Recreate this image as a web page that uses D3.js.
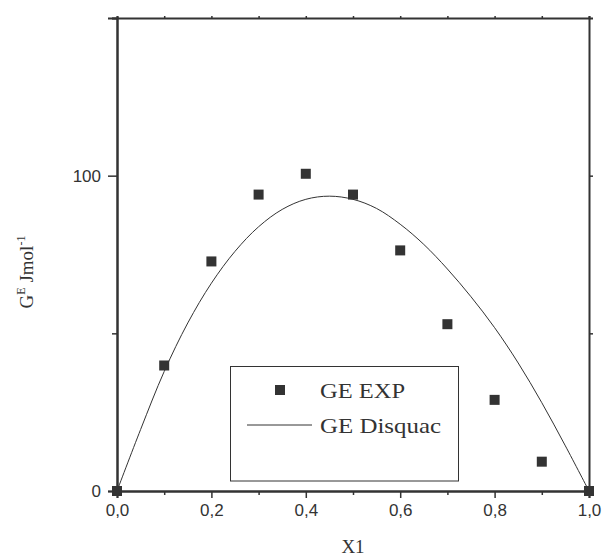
<!DOCTYPE html>
<html>
<head>
<meta charset="utf-8">
<script src="https://cdn.jsdelivr.net/npm/d3@7"></script>
<style>
  html, body { margin: 0; padding: 0; background: #fff; }
  svg { display: block; }
</style>
</head>
<body>
<svg id="chart" width="605" height="558"></svg>
<script>
// Excess Gibbs energy G^E vs mole fraction X1
const expX = [0.0, 0.1, 0.2, 0.3, 0.4, 0.5, 0.6, 0.7, 0.8, 0.9, 1.0];
const expGE = [0, 39.8, 72.8, 94.0, 100.6, 94.0, 76.3, 52.9, 28.9, 9.3, 0];

const disquacX = [0.0, 0.05, 0.1, 0.15, 0.2, 0.25, 0.3, 0.35, 0.4, 0.45, 0.5,
                  0.55, 0.6, 0.65, 0.7, 0.75, 0.8, 0.85, 0.9, 0.95, 1.0];
const disquacGE = [0, 19.5, 37.9, 53.3, 65.9, 76.0, 83.8, 89.3, 92.5, 93.5, 92.5,
                   89.6, 84.6, 78.2, 70.4, 61.6, 51.8, 40.6, 28.0, 14.3, 0];

const xMajorTicks = [0, 0.2, 0.4, 0.6, 0.8, 1.0];
const xMinorTicks = [0.1, 0.3, 0.5, 0.7, 0.9];
const yMajorTicks = [0, 100];
const yMinorTicks = [50, 150];

const legendLabels = ["GE EXP", "GE Disquac"];

const ink = "#333";
const svg = d3.select("#chart");

const x = d3.scaleLinear().domain([0, 1]).range([117, 589]);
const y = d3.scaleLinear().domain([0, 150]).range([491, 18]);

const fmtX = d => d3.format(".1f")(d).replace(".", ",");

// bottom axis
const axBottom = svg.append("g").attr("transform", `translate(0,${y(0)})`);
axBottom.call(d3.axisBottom(x).tickValues(xMinorTicks).tickSize(4).tickFormat(""));
axBottom.append("g").call(d3.axisBottom(x).tickValues(xMajorTicks).tickSize(7).tickPadding(6).tickFormat(fmtX));

// top axis
const axTop = svg.append("g").attr("transform", `translate(0,${y(150)})`);
axTop.call(d3.axisTop(x).tickValues(xMinorTicks.concat(xMajorTicks)).tickSize(2).tickFormat(""));

// left axis
const axLeft = svg.append("g").attr("transform", `translate(${x(0)},0)`);
axLeft.call(d3.axisLeft(y).tickValues(yMinorTicks).tickSize(5).tickFormat(""));
axLeft.append("g").call(d3.axisLeft(y).tickValues(yMajorTicks).tickSize(9).tickPadding(7).tickFormat(d3.format("d")));

// right axis
const axRight = svg.append("g").attr("transform", `translate(${x(1)},0)`);
axRight.call(d3.axisRight(y).tickValues([50, 100]).tickSize(4).tickFormat(""));

svg.selectAll(".domain").attr("stroke", ink).attr("stroke-width", 2);
svg.selectAll(".tick line").attr("stroke", ink).attr("stroke-width", 1.5);
svg.selectAll(".tick text")
  .attr("fill", ink)
  .attr("font-family", "'Liberation Sans', Arial, sans-serif")
  .attr("font-size", 17);

// model curve
const line = d3.line()
  .x((d, i) => x(disquacX[i]))
  .y(d => y(d))
  .curve(d3.curveCatmullRom.alpha(0.5));

svg.append("path")
  .datum(disquacGE)
  .attr("fill", "none")
  .attr("stroke", ink)
  .attr("stroke-width", 1)
  .attr("d", line);

// experimental points
const sq = 10;
svg.append("g").selectAll("rect")
  .data(expGE)
  .join("rect")
  .attr("x", (d, i) => x(expX[i]) - sq / 2)
  .attr("y", d => y(d) - sq / 2)
  .attr("width", sq)
  .attr("height", sq)
  .attr("fill", ink);

// legend
const lg = svg.append("g");
lg.append("rect")
  .attr("x", 230.5).attr("y", 366.5)
  .attr("width", 228).attr("height", 114.5)
  .attr("fill", "#fff")
  .attr("stroke", ink).attr("stroke-width", 1);
lg.append("rect")
  .attr("x", 275).attr("y", 385).attr("width", sq).attr("height", sq)
  .attr("fill", ink);
lg.append("line")
  .attr("x1", 247).attr("x2", 312).attr("y1", 425).attr("y2", 425)
  .attr("stroke", ink).attr("stroke-width", 1);
lg.selectAll("text.lbl")
  .data(legendLabels)
  .join("text")
  .attr("class", "lbl")
  .attr("x", 320)
  .attr("y", (d, i) => [397.5, 433][i])
  .attr("font-family", "'Liberation Serif', 'Times New Roman', serif")
  .attr("font-size", 21)
  .attr("fill", ink)
  .attr("textLength", (d, i) => [85, 121][i])
  .attr("lengthAdjust", "spacingAndGlyphs")
  .text(d => d);

// axis titles
svg.append("text")
  .attr("x", 353).attr("y", 553)
  .attr("text-anchor", "middle")
  .attr("font-family", "'Liberation Serif', 'Times New Roman', serif")
  .attr("font-size", 19)
  .attr("fill", ink)
  .text("X1");

const yTitle = svg.append("text")
  .attr("transform", "translate(33,272) rotate(-90)")
  .attr("text-anchor", "middle")
  .attr("font-family", "'Liberation Serif', 'Times New Roman', serif")
  .attr("font-size", 19)
  .attr("fill", ink);
yTitle.append("tspan").text("G");
yTitle.append("tspan").attr("font-size", 12).attr("dy", -8).text("E");
yTitle.append("tspan").attr("dy", 8).text(" Jmol");
yTitle.append("tspan").attr("font-size", 12).attr("dy", -8).text("-1");
</script>
</body>
</html>
